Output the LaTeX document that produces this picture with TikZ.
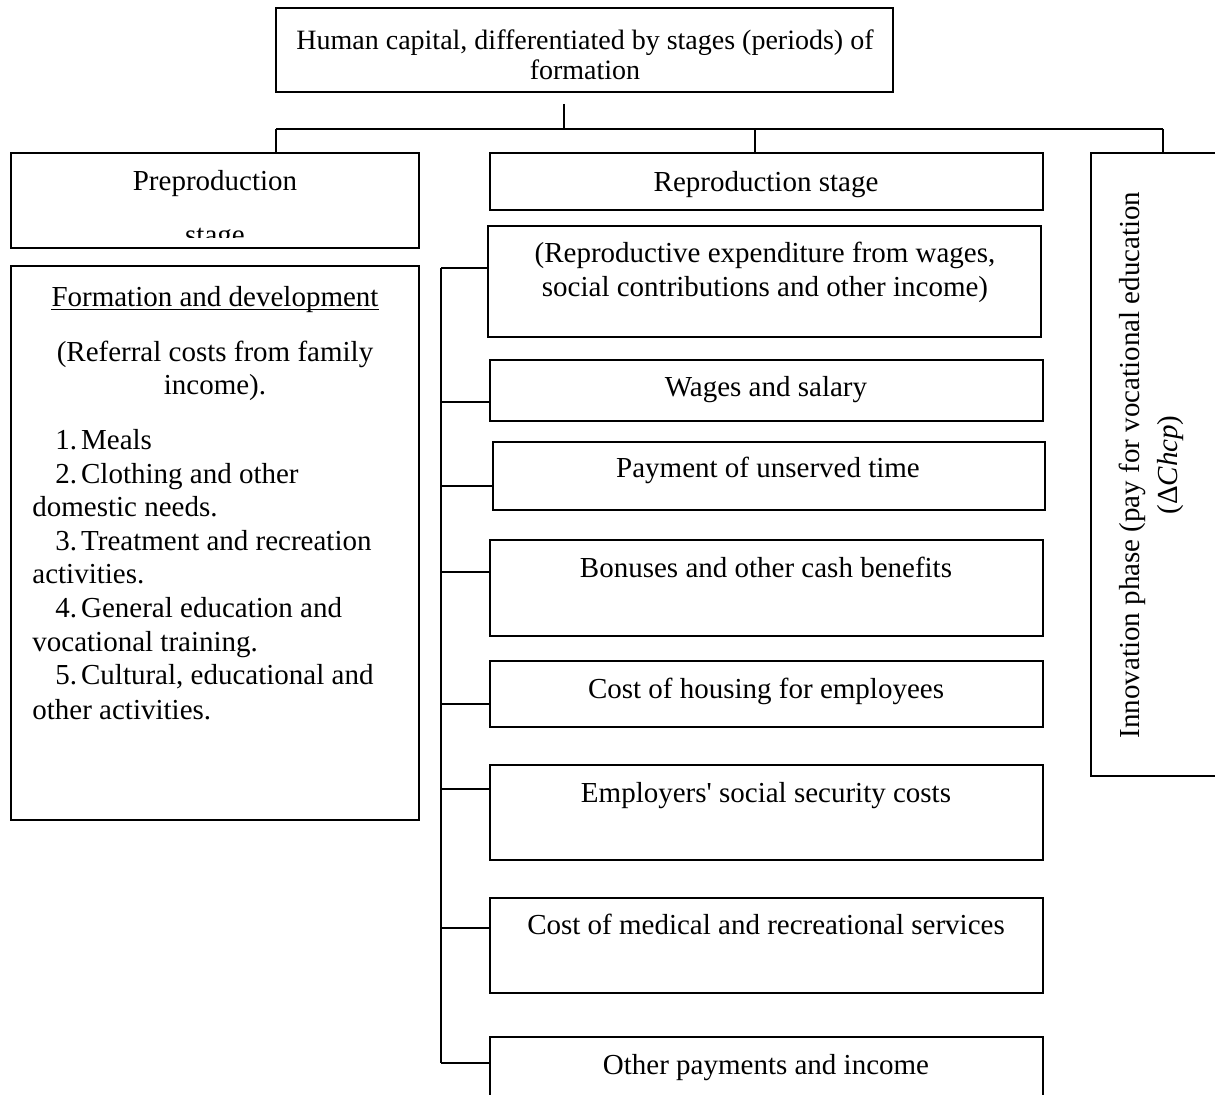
\documentclass[tikz,border=0pt]{standalone}
\usepackage{fontspec}
\setmainfont{Liberation Serif}[Ligatures=TeXOff]
\usetikzlibrary{fit}
\begin{document}
\begin{tikzpicture}[x=0.5pt,y=-0.5pt,
  box/.style={draw, line width=0.9pt, inner sep=0pt},
  link/.style={line width=0.8pt},
  txt/.style={inner sep=0pt, font=\fontsize{14.5}{17}\selectfont},
  headtxt/.style={inner sep=0pt, font=\fontsize{14}{16}\selectfont}]
\useasboundingbox (0,0) rectangle (1215,1095);
\clip (0,0) rectangle (1215,1095);

% headline
\node[box, fit={(276,8) (893,92)}] (head) {};
\node[headtxt, anchor=base] (headA) at (585,50) {Human capital, differentiated by stages (periods) of};
\node[headtxt, anchor=base] (headB) at (585,80) {formation};

% the three stages
\node[box, fit={(11,153) (419,248)}] (pre) {};
\node[txt, anchor=base] (preA) at (215,191) {Preproduction};
\begin{scope}
  \clip (11,153) rectangle (419,238);
  \node[txt, anchor=base] (preB) at (215,245) {stage};
\end{scope}

\node[box, fit={(490,153) (1043,210)}] (rep) {};
\node[txt, anchor=base] (repA) at (766,192) {Reproduction stage};

\node[box, fit={(1091,153) (1240,776)}] (inn) {};
\node[txt, rotate=90, anchor=base] (innA) at (1139,465) {Innovation phase (pay for vocational education};
\node[txt, rotate=90, anchor=base] (innB) at (1177,465) {(Δ\textit{Chcp})};

% bus from the headline to the stages
\coordinate (stubT) at (564,104);
\coordinate (busM) at (564,129);
\coordinate (busL) at (276,129);
\coordinate (busC) at (755,129);
\coordinate (busR) at (1163,129);
\draw[link] (stubT) -- (busM);
\draw[link] (busL) -- (busR);
\draw[link] (busL) -- (busL |- pre.north);
\draw[link] (busC) -- (busC |- rep.north);
\draw[link] (busR) -- (busR |- inn.north);

% preproduction content
\node[box, fit={(11,266) (419,820)}] (form) {};
\node[txt, anchor=base] (formA) at (215,307) {Formation and development};
\draw[line width=0.6pt] ([yshift=-1.4pt]formA.base west) -- ([yshift=-1.4pt]formA.base east);
\node[txt, anchor=base] (formB) at (215,362) {(Referral costs from family};
\node[txt, anchor=base] (formC) at (215,395) {income).};
\node[txt, anchor=base west] (l1) at (55,450) {1.\hspace{2pt}Meals};
\node[txt, anchor=base west] (l2) at (55,484) {2.\hspace{2pt}Clothing and other};
\node[txt, anchor=base west] (l2b) at (32,517) {domestic needs.};
\node[txt, anchor=base west] (l3) at (55,551) {3.\hspace{2pt}Treatment and recreation};
\node[txt, anchor=base west] (l3b) at (32,584) {activities.};
\node[txt, anchor=base west] (l4) at (55,618) {4.\hspace{2pt}General education and};
\node[txt, anchor=base west] (l4b) at (32,652) {vocational training.};
\node[txt, anchor=base west] (l5) at (55,685) {5.\hspace{2pt}Cultural, educational and};
\node[txt, anchor=base west] (l5b) at (32,719) {other activities.};

% reproduction items
\node[box, fit={(488,226) (1041,337)}] (r1) {};
\node[txt, anchor=base] (r1a) at (765,263) {(Reproductive expenditure from wages,};
\node[txt, anchor=base] (r1b) at (765,297) {social contributions and other income)};
\node[box, fit={(490,360) (1043,421)}] (r2) {};
\node[txt, anchor=base] (r2a) at (766,397) {Wages and salary};
\node[box, fit={(493,442) (1045,510)}] (r3) {};
\node[txt, anchor=base] (r3a) at (768,478) {Payment of unserved time};
\node[box, fit={(490,540) (1043,636)}] (r4) {};
\node[txt, anchor=base] (r4a) at (766,578) {Bonuses and other cash benefits};
\node[box, fit={(490,661) (1043,727)}] (r5) {};
\node[txt, anchor=base] (r5a) at (766,699) {Cost of housing for employees};
\node[box, fit={(490,765) (1043,860)}] (r6) {};
\node[txt, anchor=base] (r6a) at (766,802) {Employers' social security costs};
\node[box, fit={(490,898) (1043,993)}] (r7) {};
\node[txt, anchor=base] (r7a) at (766,934) {Cost of medical and recreational services};
\node[box, fit={(490,1037) (1043,1120)}] (r8) {};
\node[txt, anchor=base] (r8a) at (766,1074) {Other payments and income};

% side bus of the reproduction items
\coordinate (lbT) at (441,268);
\coordinate (lbB) at (441,1063);
\draw[link] (lbT) -- (lbB);
\foreach \i/\yy in {1/268,2/402,3/486,4/572,5/704,6/789,7/928,8/1063} {
  \coordinate (k\i) at (441,\yy);
  \draw[link] (k\i) -- (k\i -| r\i.west);
}
\end{tikzpicture}
\end{document}
